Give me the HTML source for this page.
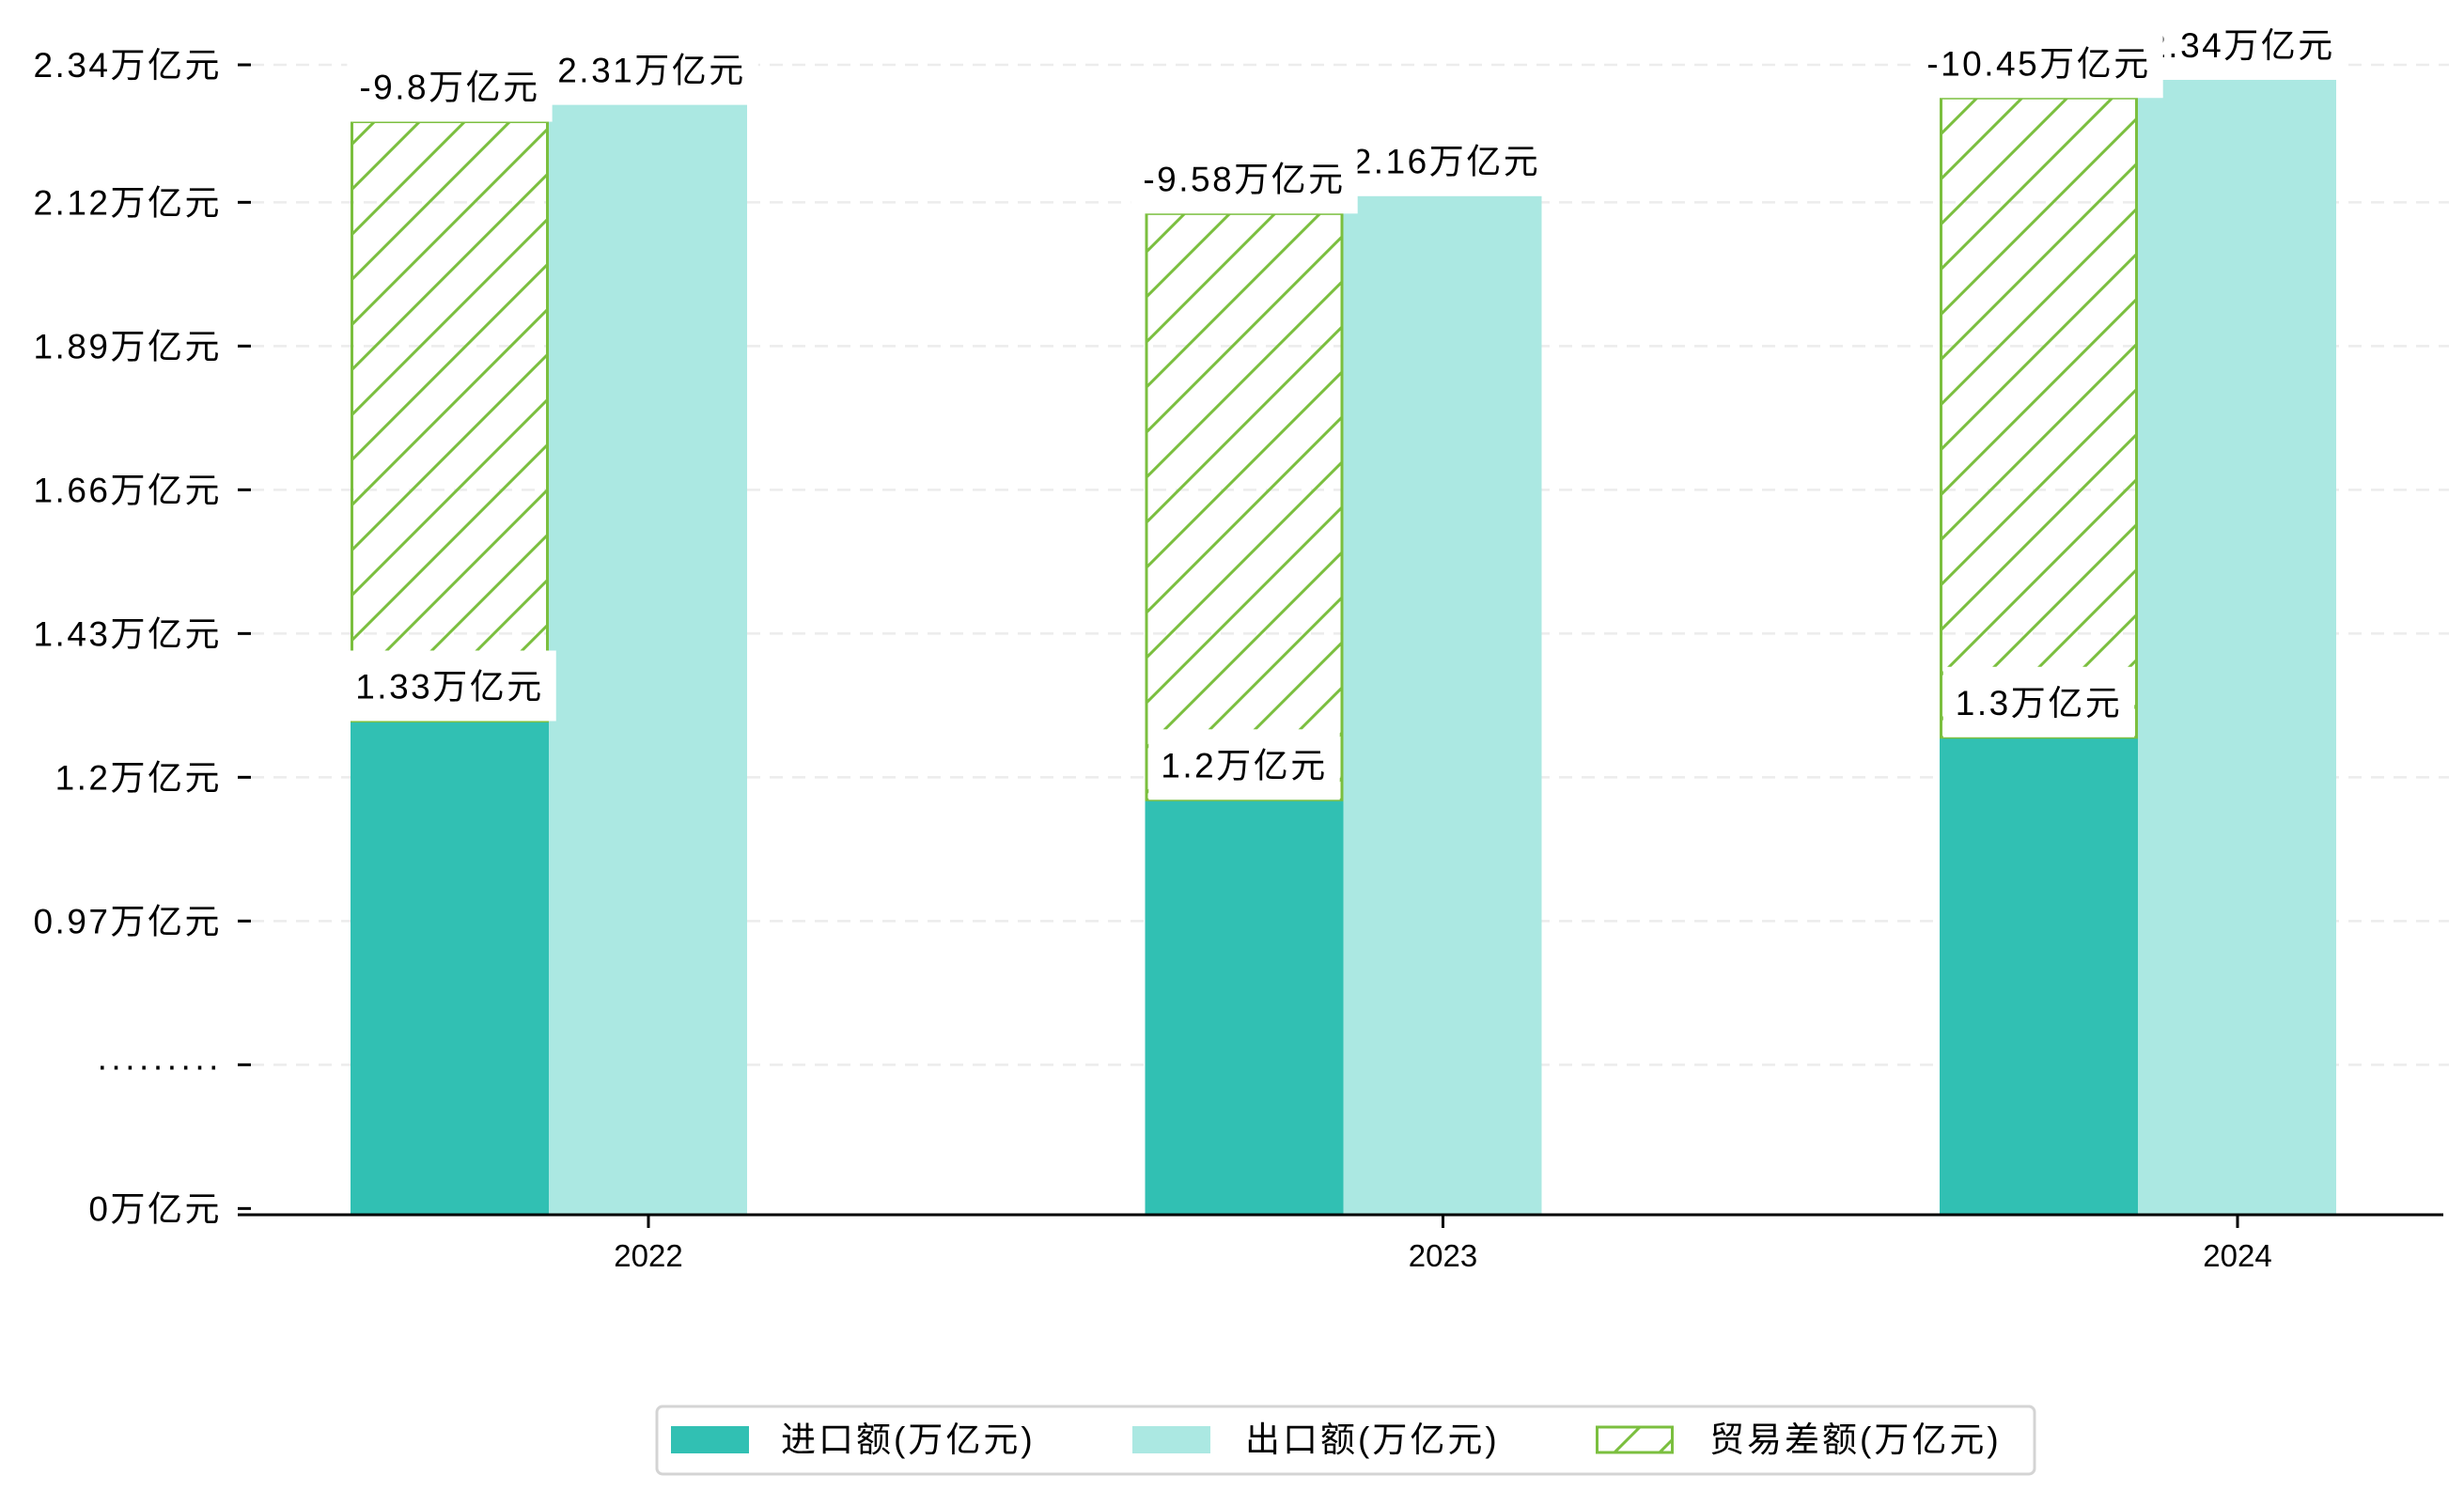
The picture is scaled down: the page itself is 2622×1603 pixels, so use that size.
<!DOCTYPE html>
<html><head><meta charset="utf-8"><style>
html,body{margin:0;padding:0;background:#fff;}
svg text{font-family:"Liberation Sans","WenQuanYi Zen Hei","Noto Sans CJK SC",sans-serif;fill:#000;}
.sp{letter-spacing:2.5px;}
</style></head><body>
<svg id="chart" width="2622" height="1598" viewBox="0 0 2622 1598" xmlns="http://www.w3.org/2000/svg">
<defs>
<pattern id="hatch" patternUnits="userSpaceOnUse" width="48" height="48">
<line x1="-12" y1="60" x2="60" y2="-12" stroke="#7bbf3f" stroke-width="3"/>
<line x1="-36" y1="36" x2="36" y2="-36" stroke="#7bbf3f" stroke-width="3"/>
<line x1="12" y1="84" x2="84" y2="12" stroke="#7bbf3f" stroke-width="3"/>
</pattern>
</defs>
<g id="grid"></g><g id="bars"></g><g id="labels"></g><g id="axes"></g><g id="legend"></g>
</svg>
<script>
const categories = ["2022","2023","2024"];
const importVals = [1.290, 1.164, 1.264];
const exportVals = [2.276, 2.130, 2.316];
const gapTopVals = [2.249, 2.102, 2.287];
const importText = ["1.33万亿元","1.2万亿元","1.3万亿元"];
const exportText = ["2.31万亿元","2.16万亿元","2.34万亿元"];
const gapText = ["-9.8万亿元","-9.58万亿元","-10.45万亿元"];
const tickVals = [2.34,2.12,1.89,1.66,1.43,1.2,0.97,0.74,0.51];
const tickText = ["2.34万亿元","2.12万亿元","1.89万亿元","1.66万亿元","1.43万亿元","1.2万亿元","0.97万亿元","·········","0万亿元"];

const NS="http://www.w3.org/2000/svg";
const Y0=1293, YTOP=69, VTOP=2.34, STEP=0.23, PX=153;
function y(v){ return Math.min(Y0, YTOP + (VTOP - v)/STEP*PX); }
function xc(i){ return 690 + i*845.5; }
const BW=211;
function mk(tag, attrs, parent){ const e=document.createElementNS(NS,tag); for(const k in attrs) e.setAttribute(k,attrs[k]); parent.appendChild(e); return e; }
const grid=document.getElementById('grid'), bars=document.getElementById('bars'), labels=document.getElementById('labels'), axes=document.getElementById('axes'), legend=document.getElementById('legend');

tickVals.forEach((v,i)=>{
  const yy=y(v);
  if(i<tickVals.length-1){
    const g=mk('line',{x1:267,x2:2606,y1:yy,y2:yy,stroke:'#ececec','stroke-width':2.5,'stroke-dasharray':'14,10'},grid);
    
    
  }
  const t=mk('line',{x1:253,x2:267,y1:yy,y2:yy,stroke:'#000','stroke-width':3},axes);
  
  
  const tx=mk('text',{x:236,y:yy+13,'text-anchor':'end','font-size':37,'class':'sp'},axes);
  tx.textContent=tickText[i];
  
  
});

function labelBox(txt,cx,bottom,name){
  const g=mk('g',{},labels);
  
  
  const r=mk('rect',{fill:'#fff'},g);
  const t=mk('text',{x:cx,y:bottom-24,'text-anchor':'middle','font-size':37,'class':'sp'},g);
  t.textContent=txt;
  const w=t.getComputedTextLength()+26;
  r.setAttribute('x',cx-w/2); r.setAttribute('y',bottom-75); r.setAttribute('width',w); r.setAttribute('height',75);
}

categories.forEach((c,i)=>{
  const c0=xc(i), xi=c0-317, xe=c0-106;
  const bi=mk('rect',{x:xi,y:y(importVals[i]),width:BW,height:Y0-y(importVals[i]),fill:'#31c0b3'},bars);
  
  
  const be=mk('rect',{x:xe,y:y(exportVals[i]),width:BW,height:Y0-y(exportVals[i]),fill:'#abe8e2'},bars);
  
  
  const bg=mk('rect',{x:xi+1.5,y:y(gapTopVals[i]),width:BW-3,height:y(importVals[i])-y(gapTopVals[i]),fill:'url(#hatch)',stroke:'#7bbf3f','stroke-width':3},bars);
  
  
  const xt=mk('line',{x1:c0,x2:c0,y1:Y0,y2:Y0+14,stroke:'#000','stroke-width':3},axes);
  
  
  const xl=mk('text',{x:c0,y:1348,'text-anchor':'middle','font-size':33},axes);
  xl.textContent=c;
  
  
});
categories.forEach((c,i)=>{ labelBox(exportText[i], xc(i)-106+BW/2+4, y(exportVals[i]), 'export-value-label'); });
categories.forEach((c,i)=>{ labelBox(importText[i], xc(i)-317+BW/2, y(importVals[i]), 'import-value-label'); });
categories.forEach((c,i)=>{ labelBox(gapText[i], xc(i)-317+BW/2, y(gapTopVals[i]), 'balance-value-label'); });

const ax=mk('line',{x1:253,x2:2600,y1:Y0,y2:Y0,stroke:'#000','stroke-width':3},axes);



const lb=mk('rect',{x:699,y:1497,width:1466,height:72,rx:6,fill:'#fff',stroke:'#d4d4d4','stroke-width':3},legend);


const legItems=[["进口额(万亿元)",714,831,'#31c0b3'],["出口额(万亿元)",1205,1325,'#abe8e2'],["贸易差额(万亿元)",1698,1819,'hatch']];
legItems.forEach((it)=>{
  const g=mk('g',{},legend);
  
  
  if(it[3]==='hatch'){
    mk('rect',{x:it[1]+1.5,y:1519,width:80,height:27,fill:'url(#hatch)',stroke:'#7bbf3f','stroke-width':3},g);
  } else {
    mk('rect',{x:it[1],y:1518,width:83,height:29,fill:it[3]},g);
  }
  const t=mk('text',{x:it[2],y:1545,'font-size':37,'letter-spacing':'3'},g);
  t.textContent=it[0];
});
</script>
</body></html>
